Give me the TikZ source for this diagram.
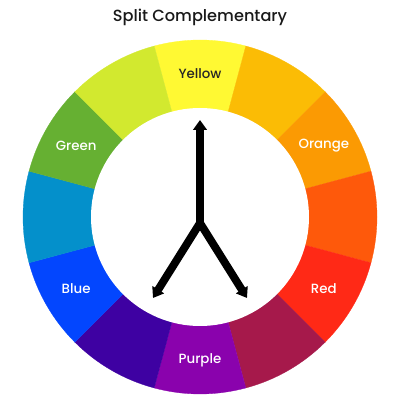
\documentclass[tikz,border=0pt]{standalone}
\usepackage{fontspec}
\setmainfont{Poppins}
\newfontfamily\medfont{Poppins Medium}
\usetikzlibrary{arrows.meta}
\definecolor{cyellow}{HTML}{FFF933}
\definecolor{cyelor}{HTML}{FBBC05}
\definecolor{corange}{HTML}{FB9A03}
\definecolor{credor}{HTML}{FE590B}
\definecolor{cred}{HTML}{FF2916}
\definecolor{credvi}{HTML}{A6194B}
\definecolor{cpurple}{HTML}{8A02AD}
\definecolor{cbluevi}{HTML}{3E01A2}
\definecolor{cblue}{HTML}{0346FE}
\definecolor{cbluegr}{HTML}{0490CB}
\definecolor{cgreen}{HTML}{66B032}
\definecolor{cyelgr}{HTML}{D2E92F}

\begin{document}
\begin{tikzpicture}[x=0.025cm,y=0.025cm,
  lbl/.style={font=\medfont\fontsize{9.5}{11}\selectfont},
  pointer/.style={line width=5.6pt,line join=miter}]
  \useasboundingbox (0,0) rectangle (400,400);
  \def\R{177}
  \def\r{109}
  \coordinate (c) at (200,183);
  \foreach \a/\col in {90/cyellow, 60/cyelor, 30/corange, 0/credor, -30/cred, -60/credvi,
    -90/cpurple, -120/cbluevi, -150/cblue, 180/cbluegr, 150/cgreen, 120/cyelgr} {
    \fill[\col, draw=\col, line width=0.2pt] (c) -- ++(\a-15:\R) arc[start angle=\a-15, end angle=\a+15, radius=\R] -- cycle;
  }
  \fill[white] (c) circle [radius=\r];
  \foreach \a/\txt/\tc in {90/Yellow/black!85, 30/Orange/white, -30/Red/white,
    -90/Purple/white, -150/Blue/white, 150/Green/white} {
    \path (c) ++(\a:143) node[lbl, text=\tc] (\txt) {\txt};
  }
  \node[font=\medfont\fontsize{11.5}{13}\selectfont, text=black!90] (title) at (200,383) {Split Complementary};
  % arrows
  \coordinate (fork) at (200,177);
  \coordinate (tipY) at (200,280);
  \coordinate (tipL) at (153,102);
  \coordinate (tipR) at (247,102);
  \draw[pointer, {Triangle[width=9.5pt,length=7pt]}-{Triangle[width=9.5pt,length=7pt]}] (tipL) -- (fork) -- (tipR);
  \draw[pointer, -{Triangle[width=9.5pt,length=7pt]}] (fork) -- (tipY);
\end{tikzpicture}
\end{document}
